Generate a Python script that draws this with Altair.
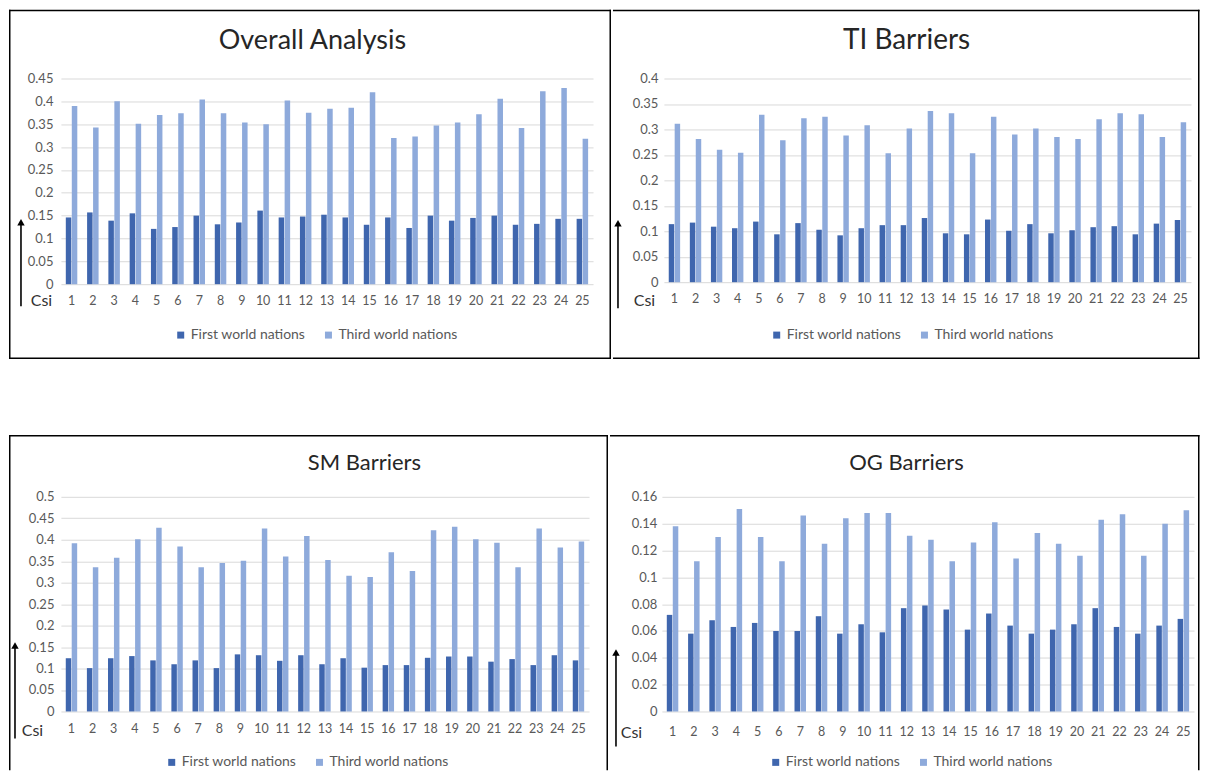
import altair as alt
import pandas as pd

# ---------------- data ----------------
csi = list(range(1, 26))
series_names = ["First world nations", "Third world nations"]

overall_first = [0.146, 0.157, 0.139, 0.155, 0.121, 0.125, 0.150, 0.131, 0.135, 0.161,
                 0.146, 0.148, 0.152, 0.146, 0.130, 0.146, 0.123, 0.150, 0.139, 0.145,
                 0.150, 0.130, 0.132, 0.143, 0.143]
overall_third = [0.390, 0.343, 0.400, 0.351, 0.370, 0.374, 0.404, 0.374, 0.354, 0.350,
                 0.402, 0.375, 0.384, 0.386, 0.420, 0.320, 0.323, 0.347, 0.354, 0.372,
                 0.406, 0.342, 0.422, 0.429, 0.318]

ti_first = [0.114, 0.117, 0.109, 0.106, 0.119, 0.094, 0.116, 0.103, 0.092, 0.106,
            0.112, 0.112, 0.126, 0.096, 0.094, 0.123, 0.101, 0.114, 0.096, 0.102,
            0.108, 0.110, 0.094, 0.115, 0.122]
ti_third = [0.311, 0.281, 0.260, 0.254, 0.329, 0.279, 0.322, 0.325, 0.288, 0.308,
            0.253, 0.302, 0.336, 0.332, 0.253, 0.325, 0.290, 0.302, 0.285, 0.281,
            0.320, 0.332, 0.330, 0.285, 0.314]

sm_first = [0.124, 0.101, 0.124, 0.129, 0.119, 0.110, 0.119, 0.101, 0.133, 0.131,
            0.118, 0.131, 0.110, 0.124, 0.102, 0.108, 0.108, 0.125, 0.128, 0.128,
            0.116, 0.122, 0.108, 0.131, 0.119]
sm_third = [0.392, 0.336, 0.358, 0.401, 0.428, 0.384, 0.336, 0.346, 0.351, 0.426,
            0.361, 0.409, 0.353, 0.316, 0.313, 0.371, 0.327, 0.422, 0.430, 0.401,
            0.393, 0.336, 0.426, 0.382, 0.396]

og_first = [0.072, 0.058, 0.068, 0.063, 0.066, 0.060, 0.060, 0.071, 0.058, 0.065,
            0.059, 0.077, 0.079, 0.076, 0.061, 0.073, 0.064, 0.058, 0.061, 0.065,
            0.077, 0.063, 0.058, 0.064, 0.069]
og_third = [0.138, 0.112, 0.130, 0.151, 0.130, 0.112, 0.146, 0.125, 0.144, 0.148,
            0.148, 0.131, 0.128, 0.112, 0.126, 0.141, 0.114, 0.133, 0.125, 0.116,
            0.143, 0.147, 0.116, 0.140, 0.150]

titles = ["Overall Analysis", "TI Barriers", "SM Barriers", "OG Barriers"]

# ---------------- styling ----------------
DARK = "#3f66ae"
LIGHT = "#8eaadb"
FONT = "Lato"
LABEL = "#595959"
GRID = "#d9d9d9"
LW = 1.5
ONE = pd.DataFrame({"k": [0]})


def make_df(first, third):
    rows = []
    for c, f, t in zip(csi, first, third):
        rows.append({"csi": c, "series": series_names[0], "value": f})
        rows.append({"csi": c, "series": series_names[1], "value": t})
    return pd.DataFrame(rows)


def line(x1, x2, y1, y2):
    # border line drawn as a thin filled rect (exact bounds, no stroke)
    return alt.Chart(ONE).mark_rect(color="black").encode(
        x=alt.value(x1), x2=alt.value(x2), y=alt.value(y1), y2=alt.value(y2))


def hline(x1, x2, y):
    return line(x1, x2, y, y + LW)


def vline(x, y1, y2):
    return line(x, x + LW, y1, y2)


def panel(first, third, title, g):
    df = make_df(first, third)
    n = int(round(g["ymax"] / g["step"]))
    yvals = [round(i * g["step"], 4) for i in range(n + 1)]

    bars = alt.Chart(df).mark_bar().encode(
        x=alt.X("csi:O",
                scale=alt.Scale(paddingInner=0.46, paddingOuter=0.23),
                axis=alt.Axis(title=None, labelAngle=0, ticks=False, tickSize=0,
                              domain=False, labelFontSize=12.5, labelColor=LABEL,
                              labelFont=FONT, labelPadding=g["xpad"])),
        xOffset=alt.XOffset("series:N", scale=alt.Scale(paddingInner=0.08)),
        y=alt.Y("value:Q",
                scale=alt.Scale(domain=[0, g["ymax"]], nice=False),
                axis=alt.Axis(values=yvals, format="~g", grid=True, gridColor=GRID,
                              ticks=False, tickSize=0, domain=False,
                              labelFontSize=13, labelColor=LABEL, labelFont=FONT,
                              labelPadding=g["ypad"],
                              title="Csi", titleAngle=0, titleX=g["csi"][0],
                              titleY=g["csi"][1], titleAlign="center",
                              titleBaseline="middle", titleFontSize=16,
                              titleFontWeight="normal", titleColor="#333333",
                              titleFont=FONT)),
        color=alt.Color("series:N",
                        scale=alt.Scale(domain=series_names, range=[DARK, LIGHT]),
                        legend=alt.Legend(title=None, orient="none",
                                          legendX=g["leg"][0], legendY=g["leg"][1],
                                          direction="horizontal", symbolType="square",
                                          symbolSize=49, symbolStrokeWidth=0,
                                          labelFontSize=14, labelColor=LABEL,
                                          labelFont=FONT, labelOffset=3,
                                          columnPadding=16)),
    )

    title_mark = alt.Chart(ONE).mark_text(
        text=title, font=FONT, fontSize=g["tsize"], color="#262626",
        align="center", baseline="middle").encode(
        x=alt.value(g["title"][0]), y=alt.value(g["title"][1]))

    ax, ay1, ay2 = g["arrow"]
    arrow_line = alt.Chart(ONE).mark_rule(color="black", strokeWidth=1.6).encode(
        x=alt.value(ax), y=alt.value(ay1 + 4), y2=alt.value(ay2))
    arrow_head = alt.Chart(ONE).mark_point(
        shape="triangle-up", filled=True, color="black", opacity=1, size=55).encode(
        x=alt.value(ax), y=alt.value(ay1 + 4))

    layers = [bars, title_mark, arrow_line, arrow_head] + g["box"]
    return alt.layer(*layers).properties(width=g["w"], height=g["h"])


# panel geometry (pixels relative to each plot area's top-left corner)
g1 = dict(w=533, h=206, ymax=0.45, step=0.05, xpad=10.5, ypad=8,
          csi=(-20, 222), leg=(113, 250), title=(252, -38), tsize=27,
          arrow=(-40, 140, 228),
          box=[hline(-52, 551, -69), hline(-52, 551, 279.5),
               vline(-52, -69, 281), vline(549.5, -69, 281)])
g2 = dict(w=528, h=204, ymax=0.4, step=0.05, xpad=10.5, ypad=6,
          csi=(-20, 222), leg=(106, 250), title=(243, -38), tsize=28,
          arrow=(-46, 141, 230),
          box=[hline(-51, 536.5, -69), hline(-51, 536.5, 279.5),
               vline(535, -69, 281)])
g3 = dict(w=529, h=215, ymax=0.5, step=0.05, xpad=11.5, ypad=7,
          csi=(-29, 234), leg=(104, 259), title=(304, -34), tsize=22,
          arrow=(-46, 145, 242),
          box=[hline(-52, 548, -62), vline(-52, -62, 274),
               vline(546.5, -62, 274)])
g4 = dict(w=533, h=215, ymax=0.16, step=0.02, xpad=14.5, ypad=5,
          csi=(-31, 236), leg=(107, 259), title=(245, -34), tsize=22,
          arrow=(-46, 152, 250),
          box=[hline(-52, 538.5, -62), vline(537, -62, 274)])

p1 = panel(overall_first, overall_third, titles[0], g1)
p2 = panel(ti_first, ti_third, titles[1], g2)
p3 = panel(sm_first, sm_third, titles[2], g3)
p4 = panel(og_first, og_third, titles[3], g4)

row1 = alt.hconcat(p1, p2, spacing=0).resolve_scale(color="independent", xOffset="independent")
row2 = alt.hconcat(p3, p4, spacing=0).resolve_scale(color="independent", xOffset="independent")

chart = alt.vconcat(row1, row2, spacing=74).resolve_scale(
    color="independent", xOffset="independent"
).properties(
    padding={"left": 0, "top": 0, "right": 0, "bottom": 0},
    background="white",
).configure_view(stroke="transparent")

chart.save("out.html", embed_options={"renderer": "svg", "actions": False})
